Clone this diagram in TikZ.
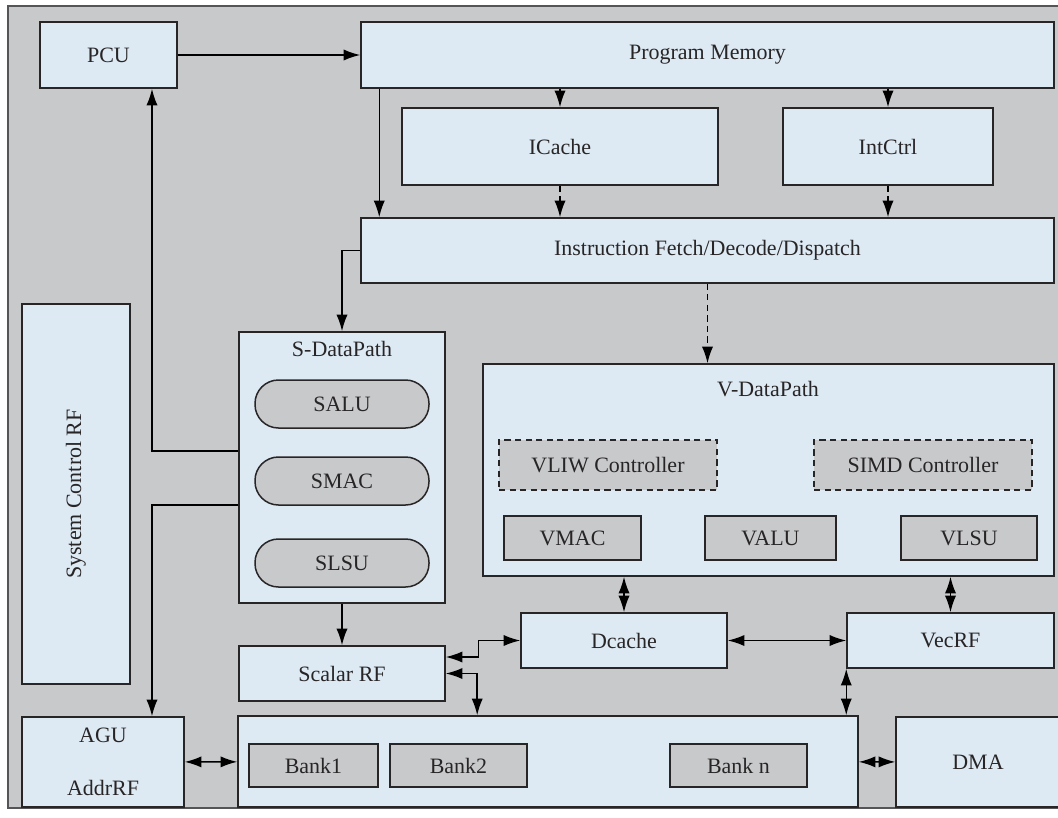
\documentclass[tikz,border=0pt]{standalone}
\usepackage{fontspec}
\setmainfont{Liberation Serif}
\usepackage{graphicx}
\usetikzlibrary{arrows.meta}
\definecolor{bggray}{RGB}{200,201,203}
\definecolor{boxblue}{RGB}{221,233,243}
\definecolor{edge}{RGB}{40,37,38}
\definecolor{frame}{RGB}{85,85,88}
% box from corner (x1,y1) to (x2,y2), in pixel units
\newcommand{\blkbox}[7]{\node[#1, minimum width={(#5-#3)*0.02cm}, minimum height={(#6-#4)*0.02cm}] (#2) at ({(#3+#5)/2},{(#4+#6)/2}) {#7};}

\begin{document}
\begin{tikzpicture}[x=0.02cm,y=-0.02cm,>={Latex[length=9.5pt,width=6.4pt]},
  line width=0.85pt,font=\fontsize{12.5}{15}\selectfont,
  every node/.style={text=edge},
  blk/.style={draw=edge,fill=boxblue,inner sep=0pt,align=center},
  gry/.style={draw=edge,fill=bggray,inner sep=0pt},
  ctl/.style={gry,dash pattern=on 3.5pt off 2.5pt},
  pill/.style={gry,rounded corners=0.47cm},
  dsh/.style={dash pattern=on 3.5pt off 2.5pt}]
  \useasboundingbox (0,0) rectangle (1058,818);
  % background frame
  \fill[bggray] (8,6) rectangle (1068,808);
  \draw[frame] (1068,6) -- (8,6) -- (8,808) -- (1068,808);

  % control part
  \blkbox{blk}{pcu}{40}{22}{177}{88}{PCU}
  \blkbox{blk}{pm}{361}{22}{1054}{88}{Program Memory}
  \blkbox{blk}{ic}{402}{108}{718}{185}{ICache}
  \blkbox{blk}{intc}{783}{108}{993}{185}{IntCtrl}
  \blkbox{blk}{ifd}{361}{218}{1054}{283}{Instruction Fetch/Decode/Dispatch}
  \blkbox{blk}{scrf}{22}{304}{130}{684}{\rotatebox{90}{System Control RF}}

  % scalar datapath
  \blkbox{blk}{sdp}{239}{332}{445}{603}{}
  \node (sdptxt) at (342,349) {S-DataPath};
  \blkbox{pill}{salu}{255}{380}{429}{428}{SALU}
  \blkbox{pill}{smac}{255}{457}{429}{505}{SMAC}
  \blkbox{pill}{slsu}{255}{539}{429}{587}{SLSU}

  % vector datapath
  \blkbox{blk}{vdp}{483}{364}{1054}{576}{}
  \node (vdptxt) at (768,389) {V-DataPath};
  \blkbox{ctl}{vliw}{499}{440}{717}{490}{VLIW Controller}
  \blkbox{ctl}{simd}{814}{440}{1032}{490}{SIMD Controller}
  \blkbox{gry}{vmac}{504}{516}{641}{560}{VMAC}
  \blkbox{gry}{valu}{705}{516}{836}{560}{VALU}
  \blkbox{gry}{vlsu}{901}{516}{1037}{560}{VLSU}

  % register files and memories
  \blkbox{blk}{srf}{239}{646}{445}{701}{Scalar RF}
  \blkbox{blk}{dc}{521}{613}{727}{668}{Dcache}
  \blkbox{blk}{vrf}{847}{613}{1054}{668}{VecRF}
  \blkbox{blk}{agu}{22}{717}{184}{807}{AGU\\[15pt]AddrRF}
  \blkbox{blk}{bank}{238}{716}{858}{807}{}
  \blkbox{gry}{b1}{249}{744}{378}{787}{Bank1}
  \blkbox{gry}{b2}{390}{744}{527}{787}{Bank2}
  \blkbox{gry}{bn}{670}{744}{807}{787}{Bank n}
  \blkbox{blk}{dma}{896}{717}{1060}{807}{DMA}

  % connections
  \draw[->] (pcu) -- (pm);
  \draw[->] ([xshift=0.38cm]pm.south west) -- ([xshift=0.38cm]ifd.north west);
  \draw[->,dash pattern=on 2.5pt off 2pt] (pm.south -| ic) -- (ic);
  \draw[->,dash pattern=on 2.5pt off 2pt] (pm.south -| intc) -- (intc);
  \draw[->,dsh] (ic) -- (ic |- ifd.north);
  \draw[->,dsh] (intc) -- (intc |- ifd.north);
  \draw[->] (ifd.west) -| (sdp);
  \draw[->,dsh] (ifd) -- (ifd |- vdp.north);
  \draw[->] ([yshift=0.33cm]sdp.west) -| ([xshift=0.87cm]pcu.south);
  \draw[->] ([yshift=-0.75cm]sdp.west) -| ([xshift=0.98cm]agu.north);
  \draw[->] (sdp) -- (srf);
  \draw[<->] ([yshift=0.33cm]srf.east) -- ++(33,0) |- (dc);
  \draw[<->] (srf.east) -| ([xshift=4.8cm]bank.north west);
  \draw[<->] (vdp.south -| dc) -- (dc);
  \draw[<->] (vdp.south -| vrf) -- (vrf);
  \draw[<->] (dc) -- (vrf);
  \draw[<->] (vrf.south west) -- (vrf.south west |- bank.north);
  \draw[<->] (agu) -- (bank);
  \draw[<->] (bank) -- (dma);
\end{tikzpicture}
\end{document}
